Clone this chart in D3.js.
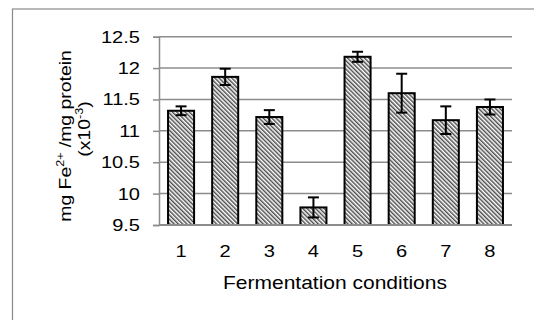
<!DOCTYPE html>
<html>
<head>
<meta charset="utf-8">
<script src="https://cdn.jsdelivr.net/npm/d3@7"></script>
<style>
  body { margin: 0; background: #fff; }
  text { font-family: "Liberation Sans", Arial, sans-serif; fill: #000; }
</style>
</head>
<body>
<div id="viz"></div>
<script>
const conditions = ['1', '2', '3', '4', '5', '6', '7', '8'];
const means = [11.32, 11.86, 11.22, 9.78, 12.18, 11.60, 11.17, 11.38];
const errors = [0.07, 0.13, 0.11, 0.16, 0.08, 0.31, 0.22, 0.12];
const yTicks = [9.5, 10, 10.5, 11, 11.5, 12, 12.5];
const yTickLabels = ['9.5', '10', '10.5', '11', '11.5', '12', '12.5'];

const width = 534, height = 320;
const margin = { top: 36.7, right: 22, bottom: 95, left: 159 };
const stretch = 'scale(1.18,1)';

const svg = d3.select('#viz')
  .append('svg')
  .attr('width', width)
  .attr('height', height);

// hatch pattern
const defs = svg.append('defs');
defs.append('pattern')
  .attr('id', 'hatch')
  .attr('patternUnits', 'userSpaceOnUse')
  .attr('width', 3)
  .attr('height', 3)
  .attr('patternTransform', 'rotate(-45)')
  .call(p => {
    p.append('rect').attr('width', 3).attr('height', 3).attr('fill', '#fff');
    p.append('line')
      .attr('x1', 0.75).attr('y1', 0)
      .attr('x2', 0.75).attr('y2', 3)
      .attr('stroke', '#444')
      .attr('stroke-width', 1.4);
  });

// outer frame
svg.append('rect')
  .attr('x', 12.5).attr('y', 9)
  .attr('width', 540).attr('height', 330)
  .attr('fill', 'none')
  .attr('stroke', '#8a8a8a')
  .attr('stroke-width', 1.2);

const yScale = d3.scaleLinear()
  .domain([9.5, 12.5])
  .range([height - margin.bottom, margin.top]);

const xScale = d3.scaleBand()
  .domain(conditions)
  .range([margin.left, width - margin.right])
  .paddingInner(0.41)
  .paddingOuter(0.205);

// gridlines
svg.append('g')
  .selectAll('line')
  .data(yTicks)
  .enter().append('line')
  .attr('x1', margin.left)
  .attr('x2', width - margin.right)
  .attr('y1', d => yScale(d))
  .attr('y2', d => yScale(d))
  .attr('stroke', '#8c8c8c')
  .attr('stroke-width', 1.5);

// y axis
const yAxis = d3.axisLeft(yScale)
  .tickValues(yTicks)
  .tickFormat((d, i) => yTickLabels[i])
  .tickSize(6);

const yGuide = svg.append('g')
  .attr('transform', 'translate(' + margin.left + ',0)')
  .call(yAxis);
yGuide.select('.domain').attr('stroke', '#8c8c8c').attr('stroke-width', 1.5);
yGuide.selectAll('.tick line').attr('stroke', '#8c8c8c').attr('stroke-width', 1.5);
yGuide.selectAll('.tick text')
  .attr('x', 0)
  .attr('transform', 'translate(-19,0) ' + stretch)
  .style('font-family', '"Liberation Sans", Arial, sans-serif')
  .style('font-size', '17px')
  .attr('fill', '#000');

// bars
svg.append('g')
  .selectAll('rect')
  .data(means)
  .enter().append('rect')
  .attr('x', (d, i) => xScale(conditions[i]))
  .attr('width', xScale.bandwidth())
  .attr('y', d => yScale(d))
  .attr('height', d => yScale(9.5) - yScale(d))
  .attr('fill', 'url(#hatch)')
  .attr('stroke', '#000')
  .attr('stroke-width', 2);

// x axis line over bars
svg.append('line')
  .attr('x1', margin.left)
  .attr('x2', width - margin.right)
  .attr('y1', yScale(9.5))
  .attr('y2', yScale(9.5))
  .attr('stroke', '#8c8c8c')
  .attr('stroke-width', 2);

// error bars
const errG = svg.append('g')
  .attr('stroke', '#000')
  .attr('stroke-width', 2);
means.forEach((m, i) => {
  const cx = xScale(conditions[i]) + xScale.bandwidth() / 2;
  errG.append('line')
    .attr('x1', cx).attr('x2', cx)
    .attr('y1', yScale(m + errors[i]))
    .attr('y2', yScale(m - errors[i]));
  [m + errors[i], m - errors[i]].forEach(v => {
    errG.append('line')
      .attr('x1', cx - 5.5).attr('x2', cx + 5.5)
      .attr('y1', yScale(v)).attr('y2', yScale(v));
  });
});

// x labels
svg.append('g')
  .selectAll('text')
  .data(conditions)
  .enter().append('text')
  .attr('transform', d => 'translate(' + (xScale(d) + xScale.bandwidth() / 2) + ',256.5) ' + stretch)
  .attr('text-anchor', 'middle')
  .style('font-size', '17px')
  .text(d => d);

svg.append('text')
  .attr('transform', 'translate(335,288.5) scale(1.2,1)')
  .attr('text-anchor', 'middle')
  .style('font-size', '17.5px')
  .text('Fermentation conditions');

// y title
const yTitle = svg.append('text')
  .attr('transform', 'translate(71,136) rotate(-90) scale(1.14,1)')
  .attr('text-anchor', 'middle')
  .style('font-size', '17px');
yTitle.append('tspan').attr('x', 0).attr('dy', 0).text('mg Fe');
yTitle.append('tspan').attr('dy', -7).style('font-size', '11px').text('2+');
yTitle.append('tspan').attr('dy', 7).text(' /mg protein');

const yTitle2 = svg.append('text')
  .attr('transform', 'translate(90,129) rotate(-90) scale(1.14,1)')
  .attr('text-anchor', 'middle')
  .style('font-size', '17px');
yTitle2.append('tspan').text('(x10');
yTitle2.append('tspan').attr('dy', -7).style('font-size', '11px').text('-3');
yTitle2.append('tspan').attr('dy', 7).text(')');
</script>
</body>
</html>
